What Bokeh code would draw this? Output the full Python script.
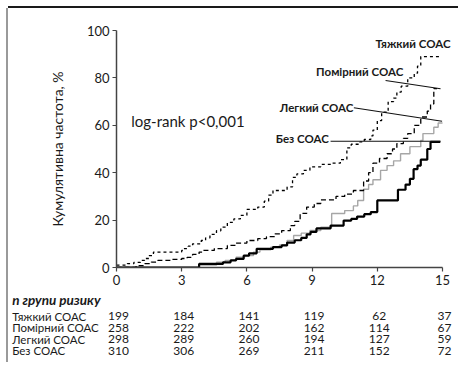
from bokeh.plotting import figure
from bokeh.models import Range1d, FixedTicker
from bokeh.layouts import column
from bokeh.embed import file_html
from bokeh.resources import INLINE
from bokeh.core.properties import value

# ---------------- data ----------------
x_ticks = [0, 3, 6, 9, 12, 15]
y_ticks = [0, 20, 40, 60, 80, 100]

severe_t = [0, 0.5, 0.8, 1.1, 1.3, 1.5, 1.7, 3.0, 3.1, 3.3, 3.5, 3.9, 4.1, 4.3, 4.6, 4.8,
            5.1, 5.4, 5.7, 6.0, 6.5, 6.8, 7.0, 7.2, 7.85, 8.1, 8.3, 8.6, 8.9, 9.4, 9.9,
            10.3, 10.6, 10.8, 11.2, 11.4, 11.7, 11.8, 12.0, 12.2, 12.5, 12.75, 12.9,
            13.1, 13.4, 13.7, 13.85, 14.0, 14.9]
severe_y = [1.0, 1.6, 2.2, 3.0, 3.8, 5.0, 6.5, 7.2, 8.0, 9.0, 10.0, 11.4, 12.5, 14.0, 15.5, 17.0,
            19.0, 20.5, 22.0, 24.5, 25.5, 28.0, 30.5, 32.5, 34.0, 38.0, 39.5, 41.0, 42.5, 43.5, 44.0,
            45.5, 50.5, 52.0, 53.0, 54.0, 55.5, 58.0, 62.0, 65.5, 70.0, 71.5, 74.0,
            76.5, 80.0, 82.0, 85.0, 89.0, 89.0]

moderate_t = [0, 0.9, 1.3, 1.6, 1.9, 2.5, 3.0, 3.25, 3.5, 3.8, 4.0, 4.5, 5.1, 5.5, 6.0, 6.5,
              6.9, 7.3, 7.6, 8.0, 8.2, 8.45, 8.75, 9.1, 9.4, 10.1, 10.5, 10.9, 11.37, 11.6,
              11.8, 12.1, 12.45, 12.7, 12.9, 13.2, 13.4, 13.7, 14.0, 14.3, 14.45, 14.6, 14.75]
moderate_y = [0, 0.8, 1.6, 2.3, 3.0, 3.4, 3.8, 4.3, 5.5, 6.5, 7.2, 8.0, 9.3, 10.3, 11.4, 12.2,
              13.0, 14.2, 15.6, 17.7, 19.5, 22.8, 25.5, 27.0, 28.5, 30.0, 31.0, 32.5, 36.5, 40.0,
              44.0, 46.0, 48.0, 50.0, 52.3, 54.5, 56.5, 60.0, 63.5, 66.0, 69.0, 75.5, 75.5]

mild_t = [0, 3.8, 4.6, 5.0, 5.5, 5.9, 6.3, 6.6, 7.1, 7.5, 7.85, 8.15, 8.5, 8.9, 9.4, 9.9,
          10.5, 10.9, 11.1, 11.37, 11.6, 11.8, 12.15, 12.45, 12.75, 13.07, 13.5, 14.0, 14.1,
          14.6, 14.8, 15.0]
mild_y = [0, 1.0, 2.2, 3.0, 4.3, 5.0, 6.5, 7.5, 8.6, 9.5, 11.4, 13.5, 14.5, 15.6, 17.0, 22.8,
          24.0, 26.0, 28.3, 33.0, 35.0, 37.0, 41.0, 43.0, 45.0, 48.0, 51.0, 53.6, 56.5,
          59.2, 61.0, 61.0]

none_t = [0, 3.8, 4.9, 5.25, 5.5, 5.85, 6.1, 6.45, 7.2, 7.6, 7.85, 8.2, 8.5, 8.75, 8.93, 9.2,
          9.85, 10.45, 10.8, 11.07, 11.4, 11.7, 12.0, 12.95, 13.3, 13.5, 13.67, 13.85, 14.0,
          14.3, 14.45, 14.9]
none_y = [0, 1.5, 2.2, 3.0, 3.6, 5.0, 6.0, 7.9, 8.6, 9.3, 10.5, 11.5, 12.5, 14.0, 15.0, 16.5,
          17.7, 19.8, 20.5, 21.5, 22.5, 23.4, 28.3, 32.8, 35.0, 37.4, 41.5, 43.0, 45.5,
          50.0, 53.0, 53.0]

group_names = ["Тяжкий СОАС", "Помірний СОАС", "Легкий СОАС", "Без СОАС"]
risk_header = "n групи ризику"
severe_n = [199, 184, 141, 119, 62, 37]
moderate_n = [258, 222, 202, 162, 114, 67]
mild_n = [298, 289, 260, 194, 127, 59]
none_n = [310, 306, 269, 211, 152, 72]

y_label = "Кумулятивна частота, %"
stat_text = "log-rank p<0,001"

# ---------------- layout constants (page px, layout placed at 8,8) ----------------
FONT = value("Lato")
OX, OY = 8, 8
W = 450
H1, H2 = 284, 70
LEFT, TOP = 116 - OX, 30 - OY
FRAME_H = 237
PX_PER_X = 326 / 15.0
X_END = (W - LEFT) / PX_PER_X
TXT = "#1a1a1a"

p1 = figure(width=W, height=H1, output_backend="svg", toolbar_location=None,
            x_range=Range1d(0, X_END), y_range=Range1d(0, 100),
            min_border_left=LEFT, min_border_right=0, min_border_top=TOP,
            min_border_bottom=H1 - TOP - FRAME_H)
p1.frame_align = False
p1.grid.visible = False
p1.outline_line_color = None
p1.border_fill_color = "white"

for ax in (p1.xaxis[0], p1.yaxis[0]):
    ax.axis_line_color = "#444444"
    ax.axis_line_width = 1.5
    ax.major_tick_line_color = "#444444"
    ax.major_tick_line_width = 1.2
    ax.major_tick_in = 0
    ax.major_tick_out = 4
    ax.minor_tick_line_color = None
    ax.major_label_text_font = "Lato"
    ax.major_label_text_font_size = "13px"
    ax.major_label_text_color = TXT
    ax.major_label_standoff = 3

p1.xaxis.ticker = FixedTicker(ticks=x_ticks)
p1.xaxis.bounds = (x_ticks[0], x_ticks[-1])
p1.yaxis.ticker = FixedTicker(ticks=y_ticks)
p1.yaxis.axis_label = y_label
p1.yaxis.axis_label_text_font = "Lato"
p1.yaxis.axis_label_text_font_style = "normal"
p1.yaxis.axis_label_text_font_size = "14px"
p1.yaxis.axis_label_text_color = TXT
p1.yaxis.axis_label_standoff = 18

p1.step(mild_t, mild_y, mode="after", line_color="#a6a6a6", line_width=1.4)
p1.step(none_t, none_y, mode="after", line_color="#000000", line_width=2.2)
p1.step(moderate_t, moderate_y, mode="after", line_color="#000000", line_width=1.3,
        line_dash="5 3")
p1.step(severe_t, severe_y, mode="after", line_color="#000000", line_width=1.3,
        line_dash="3 3")

p1.segment(x0=[12.38, 10.92, 9.85], y0=[78.9, 67.4, 53.3],
           x1=[14.91, 14.98, 14.91], y1=[75.4, 61.7, 53.3],
           line_color="#111111", line_width=1.1)

p1.text(x=[15.37, 13.2, 10.9, 9.77], y=[94.5, 82.8, 67.4, 54.3], text=group_names,
        text_font=FONT, text_font_size="11.5px", text_font_style="bold",
        text_color=TXT, text_align="right", text_baseline="middle")

p1.text(x=[0.68], y=[62], text=[stat_text], text_font=FONT, text_font_size="15px",
        text_color=TXT, text_align="left", text_baseline="middle")

# ---------------- risk table ----------------
ROW0_PX, ROW_STEP = 315.5 - (OY + H1), 11.6
r_top = -ROW0_PX / ROW_STEP
r_bot = (H2 - ROW0_PX) / ROW_STEP
x_start2 = -LEFT / PX_PER_X

p2 = figure(width=W, height=H2, output_backend="svg", toolbar_location=None,
            x_range=Range1d(x_start2, X_END), y_range=Range1d(r_bot, r_top),
            x_axis_location=None, y_axis_location=None, min_border=0)
p2.frame_align = False
p2.grid.visible = False
p2.outline_line_color = None
p2.border_fill_color = "white"

label_x = x_start2 + 3.7 / PX_PER_X
p2.text(x=[label_x], y=[-1.34], text=[risk_header], text_font=FONT,
        text_font_size="13.5px", text_font_style="bold italic", text_color=TXT,
        text_align="left", text_baseline="middle")
p2.text(x=[label_x] * 4, y=[0, 1, 2, 3], text=group_names, text_font=FONT,
        text_font_size="11.5px", text_color=TXT, text_align="left", text_baseline="middle")

rows = [severe_n, moderate_n, mild_n, none_n]
xs, ys, ts = [], [], []
for i, row in enumerate(rows):
    for t, n in zip(x_ticks, row):
        xs.append(t)
        ys.append(i)
        ts.append(str(n))
p2.text(x=xs, y=ys, text=ts, text_font=FONT, text_font_size="12px", text_color=TXT,
        text_align="center", text_baseline="middle", x_offset=2)

layout = column(p1, p2, spacing=0, margin=(OY, 0, 0, OX),
                styles={"box-shadow": "0 -2px 0 0 #1a1a1a, -2px 0 0 0 #9a9a9a"})

open("out.html", "w").write(file_html(layout, INLINE))
